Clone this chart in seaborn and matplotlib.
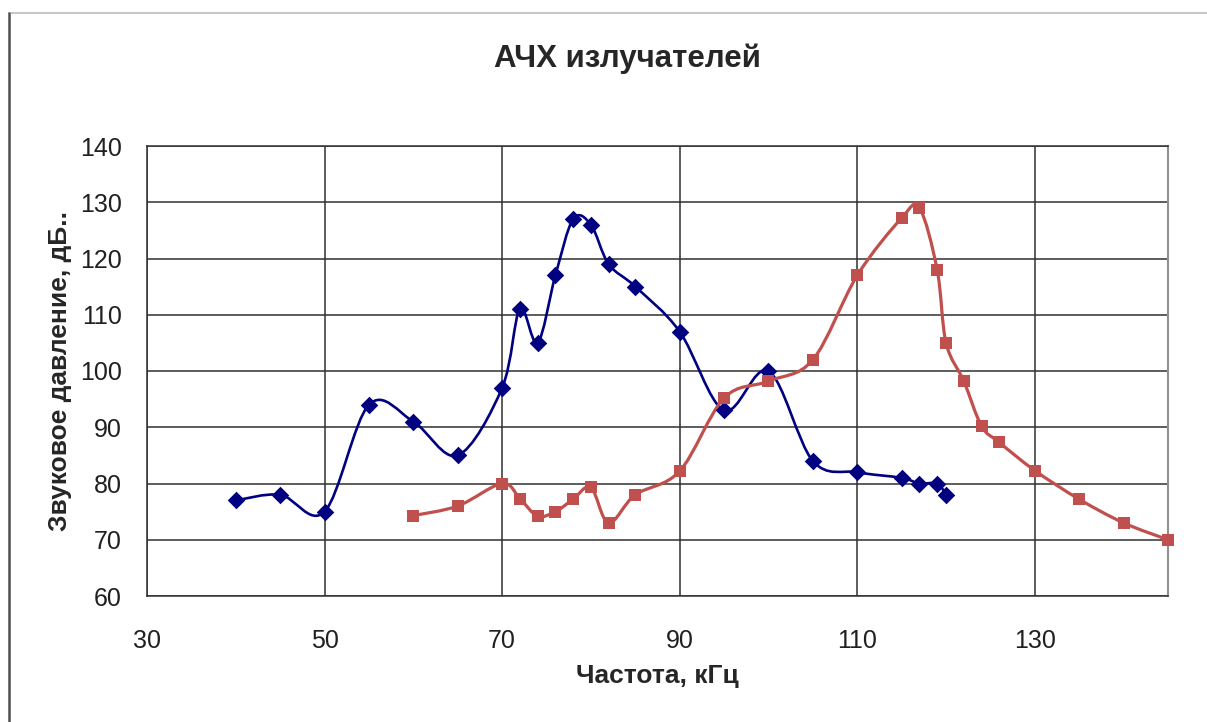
import numpy as np
import pandas as pd
import seaborn as sns
import matplotlib.pyplot as plt
from matplotlib.path import Path
from matplotlib.patches import PathPatch
from matplotlib.lines import Line2D

# data
freq_a = [40, 45, 50, 55, 60, 65, 70, 72, 74, 76, 78, 80, 82, 85, 90, 95, 100,
          105, 110, 115, 117, 119, 120]
spl_a = [77, 78, 75, 94, 91, 85, 97, 111, 105, 117, 127, 126, 119, 115, 107, 93, 100,
         84, 82, 81, 80, 80, 78]
freq_b = [60, 65, 70, 72, 74, 76, 78, 80, 82, 85, 90, 95, 100, 105, 110, 115, 117,
          119, 120, 122, 124, 126, 130, 135, 140, 145]
spl_b = [74.3, 76, 80, 77.3, 74.2, 75, 77.2, 79.3, 73, 78, 82.2, 95.2, 98.2, 102, 117, 127.2, 129,
         118, 105, 98.2, 90.2, 87.3, 82.3, 77.2, 73, 70]
x_ticks = [30, 50, 70, 90, 110, 130]
y_ticks = [60, 70, 80, 90, 100, 110, 120, 130, 140]

sns.set_style("white")
plt.rcParams['font.family'] = ['Liberation Sans', 'DejaVu Sans']

fig = plt.figure(figsize=(12.07, 7.22), dpi=100)
ax = fig.add_axes([147/1207, 1 - 596/722, (1168 - 147)/1207, (596 - 146)/722])


def smooth_path(xs, ys):
    # excel-like smoothed line: cubic bezier through every point
    p = np.column_stack([xs, ys]).astype(float)
    p = np.vstack([p[0], p, p[-1]])
    verts = [p[1]]
    codes = [Path.MOVETO]
    for i in range(1, len(p) - 2):
        b1 = p[i] + (p[i + 1] - p[i - 1]) / 6
        b2 = p[i + 1] - (p[i + 2] - p[i]) / 6
        verts += [b1, b2, p[i + 1]]
        codes += [Path.CURVE4] * 3
    return Path(verts, codes)


blue = '#000080'
red = '#C0504D'
ax.add_patch(PathPatch(smooth_path(freq_a, spl_a), fill=False, edgecolor=blue, lw=1.9, zorder=3))
ax.add_patch(PathPatch(smooth_path(freq_b, spl_b), fill=False, edgecolor=red, lw=2.3, zorder=3))

df_a = pd.DataFrame({'f': freq_a, 'p': spl_a})
df_b = pd.DataFrame({'f': freq_b, 'p': spl_b})
sns.scatterplot(data=df_a, x='f', y='p', ax=ax, marker='D', s=80, color=blue,
                edgecolor=blue, linewidth=0, zorder=4, clip_on=False)
sns.scatterplot(data=df_b, x='f', y='p', ax=ax, marker='s', s=85, color=red,
                edgecolor=red, linewidth=0, zorder=4, clip_on=False)

ax.set_xlim(30, 145)
ax.set_ylim(60, 140)
ax.set_xticks(x_ticks)
ax.set_yticks(y_ticks)
ax.grid(True, color='#303030', lw=1.1)
ax.set_axisbelow(True)
ax.tick_params(axis='both', which='both', direction='out', length=6, width=1.1,
               color='#303030', labelsize=18, labelcolor='#202020')
ax.tick_params(axis='y', pad=12)
ax.tick_params(axis='x', pad=18)
for s in ['left', 'bottom', 'top']:
    ax.spines[s].set_color('#303030')
    ax.spines[s].set_linewidth(1.1)
ax.spines['right'].set_color('#909090')
ax.spines['right'].set_linewidth(1.5)

ax.set_xlabel('Частота, кГц', fontsize=19, fontweight='bold', labelpad=8)
ax.set_ylabel('Звуковое давление, дБ..', fontsize=19, fontweight='bold', labelpad=6)
fig.text(627/1207, 1 - 59/722, 'АЧХ излучателей', fontsize=22.5, fontweight='bold',
         ha='center', va='center')

# outer chart frame
fig.add_artist(Line2D([9/1207, 1], [1 - 13/722, 1 - 13/722], color='#c8c8c8', lw=1.5))
fig.add_artist(Line2D([9/1207, 9/1207], [0, 1 - 13/722], color='#505050', lw=1.8))

fig.savefig('out.png', dpi=100)
